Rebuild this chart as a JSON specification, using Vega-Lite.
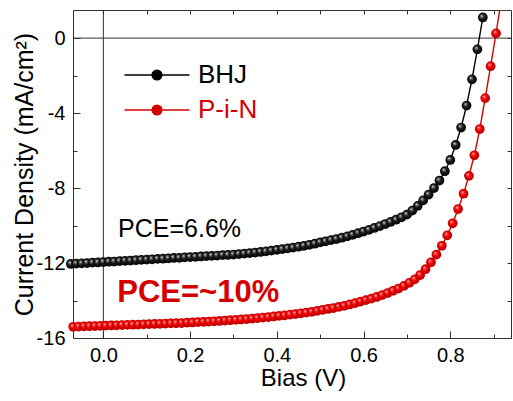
{
  "$schema": "https://vega.github.io/schema/vega-lite/v6.json",
  "width": 438,
  "height": 328,
  "autosize": "none",
  "padding": {"left": 73, "top": 10, "right": 2, "bottom": 63},
  "background": "white",
  "config": {
    "font": "Liberation Sans",
    "view": {"stroke": null},
    "axis": {
      "labelFont": "Liberation Sans",
      "labelFontSize": 20,
      "labelColor": "#000000",
      "titleFont": "Liberation Sans",
      "titleFontSize": 24,
      "titleFontWeight": "normal",
      "titleColor": "#000000",
      "domainColor": "#333333",
      "domainWidth": 1,
      "tickColor": "#333333",
      "tickWidth": 1,
      "grid": false
    }
  },
  "datasets": {
    "iv": [
      {"series":"BHJ","V":-0.075,"J":-12.05},{"series":"BHJ","V":-0.0625,"J":-12.03},{"series":"BHJ","V":-0.05,"J":-12.02},{"series":"BHJ","V":-0.0375,"J":-12.0},{"series":"BHJ","V":-0.025,"J":-11.98},{"series":"BHJ","V":-0.0125,"J":-11.97},{"series":"BHJ","V":0,"J":-11.95},{"series":"BHJ","V":0.0125,"J":-11.93},{"series":"BHJ","V":0.025,"J":-11.92},{"series":"BHJ","V":0.0375,"J":-11.9},
      {"series":"BHJ","V":0.05,"J":-11.88},{"series":"BHJ","V":0.0625,"J":-11.87},{"series":"BHJ","V":0.075,"J":-11.85},{"series":"BHJ","V":0.0875,"J":-11.83},{"series":"BHJ","V":0.1,"J":-11.82},{"series":"BHJ","V":0.1125,"J":-11.8},{"series":"BHJ","V":0.125,"J":-11.78},{"series":"BHJ","V":0.1375,"J":-11.77},{"series":"BHJ","V":0.15,"J":-11.75},{"series":"BHJ","V":0.1625,"J":-11.73},
      {"series":"BHJ","V":0.175,"J":-11.72},{"series":"BHJ","V":0.1875,"J":-11.7},{"series":"BHJ","V":0.2,"J":-11.68},{"series":"BHJ","V":0.2125,"J":-11.67},{"series":"BHJ","V":0.225,"J":-11.65},{"series":"BHJ","V":0.2375,"J":-11.63},{"series":"BHJ","V":0.25,"J":-11.62},{"series":"BHJ","V":0.2625,"J":-11.6},{"series":"BHJ","V":0.275,"J":-11.58},{"series":"BHJ","V":0.2875,"J":-11.57},
      {"series":"BHJ","V":0.3,"J":-11.55},{"series":"BHJ","V":0.3125,"J":-11.52},{"series":"BHJ","V":0.325,"J":-11.5},{"series":"BHJ","V":0.3375,"J":-11.47},{"series":"BHJ","V":0.35,"J":-11.44},{"series":"BHJ","V":0.3625,"J":-11.41},{"series":"BHJ","V":0.375,"J":-11.38},{"series":"BHJ","V":0.3875,"J":-11.34},{"series":"BHJ","V":0.4,"J":-11.3},{"series":"BHJ","V":0.4125,"J":-11.26},
      {"series":"BHJ","V":0.425,"J":-11.22},{"series":"BHJ","V":0.4375,"J":-11.18},{"series":"BHJ","V":0.45,"J":-11.13},{"series":"BHJ","V":0.4625,"J":-11.08},{"series":"BHJ","V":0.475,"J":-11.03},{"series":"BHJ","V":0.4875,"J":-10.97},{"series":"BHJ","V":0.5,"J":-10.9},{"series":"BHJ","V":0.5125,"J":-10.84},{"series":"BHJ","V":0.525,"J":-10.78},{"series":"BHJ","V":0.5375,"J":-10.72},
      {"series":"BHJ","V":0.55,"J":-10.65},{"series":"BHJ","V":0.5625,"J":-10.58},{"series":"BHJ","V":0.575,"J":-10.5},{"series":"BHJ","V":0.5875,"J":-10.41},{"series":"BHJ","V":0.6,"J":-10.32},{"series":"BHJ","V":0.6125,"J":-10.23},{"series":"BHJ","V":0.625,"J":-10.13},{"series":"BHJ","V":0.6375,"J":-10.03},{"series":"BHJ","V":0.65,"J":-9.92},{"series":"BHJ","V":0.6625,"J":-9.81},
      {"series":"BHJ","V":0.675,"J":-9.69},{"series":"BHJ","V":0.6875,"J":-9.56},{"series":"BHJ","V":0.7,"J":-9.42},{"series":"BHJ","V":0.7125,"J":-9.2},{"series":"BHJ","V":0.725,"J":-8.95},{"series":"BHJ","V":0.7375,"J":-8.66},{"series":"BHJ","V":0.75,"J":-8.35},{"series":"BHJ","V":0.7625,"J":-8.0},{"series":"BHJ","V":0.775,"J":-7.6},{"series":"BHJ","V":0.7875,"J":-7.1},
      {"series":"BHJ","V":0.8,"J":-6.5},{"series":"BHJ","V":0.8125,"J":-5.7},{"series":"BHJ","V":0.825,"J":-4.77},{"series":"BHJ","V":0.8375,"J":-3.6},{"series":"BHJ","V":0.85,"J":-2.2},{"series":"BHJ","V":0.8625,"J":-0.6},{"series":"BHJ","V":0.875,"J":1.1},
      {"series":"P-i-N","V":-0.0695,"J":-15.4},{"series":"P-i-N","V":-0.057,"J":-15.39},{"series":"P-i-N","V":-0.0445,"J":-15.38},{"series":"P-i-N","V":-0.032,"J":-15.37},{"series":"P-i-N","V":-0.0195,"J":-15.36},{"series":"P-i-N","V":-0.007,"J":-15.35},{"series":"P-i-N","V":0.0055,"J":-15.34},{"series":"P-i-N","V":0.018,"J":-15.33},{"series":"P-i-N","V":0.0305,"J":-15.32},{"series":"P-i-N","V":0.043,"J":-15.31},
      {"series":"P-i-N","V":0.0555,"J":-15.3},{"series":"P-i-N","V":0.068,"J":-15.29},{"series":"P-i-N","V":0.0805,"J":-15.28},{"series":"P-i-N","V":0.093,"J":-15.27},{"series":"P-i-N","V":0.1055,"J":-15.26},{"series":"P-i-N","V":0.118,"J":-15.25},{"series":"P-i-N","V":0.1305,"J":-15.24},{"series":"P-i-N","V":0.143,"J":-15.23},{"series":"P-i-N","V":0.1555,"J":-15.22},{"series":"P-i-N","V":0.168,"J":-15.21},
      {"series":"P-i-N","V":0.1805,"J":-15.2},{"series":"P-i-N","V":0.193,"J":-15.18},{"series":"P-i-N","V":0.2055,"J":-15.17},{"series":"P-i-N","V":0.218,"J":-15.15},{"series":"P-i-N","V":0.2305,"J":-15.14},{"series":"P-i-N","V":0.243,"J":-15.12},{"series":"P-i-N","V":0.2555,"J":-15.11},{"series":"P-i-N","V":0.268,"J":-15.09},{"series":"P-i-N","V":0.2805,"J":-15.07},{"series":"P-i-N","V":0.293,"J":-15.05},
      {"series":"P-i-N","V":0.3055,"J":-15.03},{"series":"P-i-N","V":0.318,"J":-15.01},{"series":"P-i-N","V":0.3305,"J":-14.99},{"series":"P-i-N","V":0.343,"J":-14.96},{"series":"P-i-N","V":0.3555,"J":-14.94},{"series":"P-i-N","V":0.368,"J":-14.91},{"series":"P-i-N","V":0.3805,"J":-14.88},{"series":"P-i-N","V":0.393,"J":-14.85},{"series":"P-i-N","V":0.4055,"J":-14.82},{"series":"P-i-N","V":0.418,"J":-14.79},
      {"series":"P-i-N","V":0.4305,"J":-14.75},{"series":"P-i-N","V":0.443,"J":-14.72},{"series":"P-i-N","V":0.4555,"J":-14.68},{"series":"P-i-N","V":0.468,"J":-14.64},{"series":"P-i-N","V":0.4805,"J":-14.6},{"series":"P-i-N","V":0.493,"J":-14.55},{"series":"P-i-N","V":0.5055,"J":-14.5},{"series":"P-i-N","V":0.518,"J":-14.45},{"series":"P-i-N","V":0.5305,"J":-14.4},{"series":"P-i-N","V":0.543,"J":-14.34},
      {"series":"P-i-N","V":0.5555,"J":-14.28},{"series":"P-i-N","V":0.568,"J":-14.21},{"series":"P-i-N","V":0.5805,"J":-14.14},{"series":"P-i-N","V":0.593,"J":-14.06},{"series":"P-i-N","V":0.6055,"J":-13.98},{"series":"P-i-N","V":0.618,"J":-13.9},{"series":"P-i-N","V":0.6305,"J":-13.81},{"series":"P-i-N","V":0.643,"J":-13.71},{"series":"P-i-N","V":0.6555,"J":-13.6},{"series":"P-i-N","V":0.668,"J":-13.48},
      {"series":"P-i-N","V":0.6805,"J":-13.36},{"series":"P-i-N","V":0.693,"J":-13.22},{"series":"P-i-N","V":0.7055,"J":-13.06},{"series":"P-i-N","V":0.718,"J":-12.87},{"series":"P-i-N","V":0.7305,"J":-12.64},{"series":"P-i-N","V":0.743,"J":-12.33},{"series":"P-i-N","V":0.7555,"J":-11.96},{"series":"P-i-N","V":0.768,"J":-11.55},{"series":"P-i-N","V":0.7805,"J":-11.08},{"series":"P-i-N","V":0.793,"J":-10.52},
      {"series":"P-i-N","V":0.8055,"J":-9.88},{"series":"P-i-N","V":0.818,"J":-9.12},{"series":"P-i-N","V":0.8305,"J":-8.3},{"series":"P-i-N","V":0.843,"J":-7.35},{"series":"P-i-N","V":0.8555,"J":-6.25},{"series":"P-i-N","V":0.868,"J":-4.85},{"series":"P-i-N","V":0.8805,"J":-3.2},{"series":"P-i-N","V":0.893,"J":-1.5},{"series":"P-i-N","V":0.9055,"J":0.25},{"series":"P-i-N","V":0.918,"J":2.1}
    ]
  },
  "layer": [
    {
      "data": {"values": [{"a": 1}]},
      "mark": {"type": "point", "opacity": 0},
      "encoding": {
        "x": {"datum": 0.5, "type": "quantitative", "scale": {"domain": [-0.07, 0.94], "nice": false, "zero": false},
          "axis": {"orient": "bottom", "values": [0, 0.2, 0.4, 0.6, 0.8], "format": ".1f", "tickSize": -7, "labelPadding": 14, "title": "Bias (V)", "titleX": 230, "titleY": 47, "titleBaseline": "alphabetic", "titleAlign": "center"}},
        "y": {"datum": -8, "type": "quantitative", "scale": {"domain": [-16, 1.5], "nice": false, "zero": false},
          "axis": {"orient": "left", "values": [-16, -12, -8, -4, 0], "labelExpr": "'' + datum.value", "tickSize": -7, "labelPadding": 15, "title": "Current Density (mA/cm²)", "titleFontSize": 25, "titleAngle": -90, "titleX": -41, "titleY": 164, "titleBaseline": "alphabetic", "titleAlign": "center"}}
      }
    },
    {
      "data": {"values": [{"a": 1}]},
      "mark": {"type": "point", "opacity": 0},
      "encoding": {
        "x": {"datum": 0.5, "type": "quantitative", "scale": {"domain": [-0.07, 0.94], "nice": false, "zero": false},
          "axis": {"orient": "bottom", "values": [0.1, 0.3, 0.5, 0.7, 0.9], "labels": false, "domain": false, "tickSize": -4, "title": null}},
        "y": {"datum": -8, "type": "quantitative", "scale": {"domain": [-16, 1.5], "nice": false, "zero": false},
          "axis": {"orient": "left", "values": [-14, -10, -6, -2], "labels": false, "domain": false, "tickSize": -4, "title": null}}
      }
    },
    {
      "data": {"values": [{"a": 1}]},
      "mark": {"type": "rule", "color": "#333333", "strokeWidth": 1},
      "encoding": {
        "x": {"datum": 0, "type": "quantitative", "scale": {"domain": [-0.07, 0.94], "nice": false, "zero": false},
          "axis": {"orient": "top", "values": [0, 0.1, 0.2, 0.3, 0.4, 0.5, 0.6, 0.7, 0.8, 0.9], "labels": false, "tickSize": -4, "title": null}}
      }
    },
    {
      "data": {"values": [{"a": 1}]},
      "mark": {"type": "rule", "color": "#333333", "strokeWidth": 1},
      "encoding": {
        "y": {"datum": 0, "type": "quantitative", "scale": {"domain": [-16, 1.5], "nice": false, "zero": false},
          "axis": {"orient": "right", "values": [-16, -14, -12, -10, -8, -6, -4, -2, 0], "labels": false, "tickSize": -4, "title": null}}
      }
    },
    {
      "data": {"name": "iv"},
      "mark": {"type": "line", "clip": true, "strokeWidth": 1.4},
      "encoding": {
        "x": {"field": "V", "type": "quantitative", "scale": {"domain": [-0.07, 0.94], "nice": false, "zero": false}, "axis": null},
        "y": {"field": "J", "type": "quantitative", "scale": {"domain": [-16, 1.5], "nice": false, "zero": false}, "axis": null},
        "stroke": {"field": "series", "type": "nominal", "scale": {"domain": ["BHJ", "P-i-N"], "range": ["#000000", "#d40000"]},
          "legend": {
            "orient": "none", "legendX": 71, "legendY": 52, "title": null, "padding": 0,
            "symbolType": "M-3,0H3M0.45,0A0.45,0.45,0,1,1,-0.45,0A0.45,0.45,0,1,1,0.45,0",
            "symbolSize": 470, "symbolStrokeWidth": 1.4,
            "labelFont": "Liberation Sans", "labelFontSize": 26, "labelOffset": 28, "rowPadding": 9,
            "encode": {
              "symbols": {"update": {"fill": {"scale": "stroke", "field": "value"}}},
              "labels": {"update": {"fill": {"scale": "stroke", "field": "value"}}}
            }
          }}
      }
    },
    {
      "data": {"name": "iv"},
      "transform": [{"filter": "datum.J < 1.5 && datum.series == 'P-i-N'"}],
      "mark": {"type": "point", "filled": true, "opacity": 1, "size": 95, "strokeWidth": 0,
        "fill": {"gradient": "radial", "x1": 0.36, "y1": 0.32, "r1": 0, "x2": 0.5, "y2": 0.5, "r2": 0.55, "stops": [{"offset": 0, "color": "#ffeaea"}, {"offset": 0.18, "color": "#ff5050"}, {"offset": 0.5, "color": "#e80000"}, {"offset": 1, "color": "#b00000"}]}},
      "encoding": {
        "x": {"field": "V", "type": "quantitative", "scale": {"domain": [-0.07, 0.94], "nice": false, "zero": false}, "axis": null},
        "y": {"field": "J", "type": "quantitative", "scale": {"domain": [-16, 1.5], "nice": false, "zero": false}, "axis": null}
      }
    },
    {
      "data": {"name": "iv"},
      "transform": [{"filter": "datum.J < 1.5 && datum.series == 'BHJ'"}],
      "mark": {"type": "point", "filled": true, "opacity": 1, "size": 95, "strokeWidth": 0,
        "fill": {"gradient": "radial", "x1": 0.36, "y1": 0.32, "r1": 0, "x2": 0.5, "y2": 0.5, "r2": 0.55, "stops": [{"offset": 0, "color": "#ffffff"}, {"offset": 0.15, "color": "#8a8a8a"}, {"offset": 0.45, "color": "#1c1c1c"}, {"offset": 1, "color": "#000000"}]}},
      "encoding": {
        "x": {"field": "V", "type": "quantitative", "scale": {"domain": [-0.07, 0.94], "nice": false, "zero": false}, "axis": null},
        "y": {"field": "J", "type": "quantitative", "scale": {"domain": [-16, 1.5], "nice": false, "zero": false}, "axis": null}
      }
    },
    {
      "data": {"values": [{"label": "PCE=6.6%", "V": 0.034, "J": -10.2}]},
      "mark": {"type": "text", "align": "left", "baseline": "middle", "fontSize": 25, "font": "Liberation Sans", "color": "#000000"},
      "encoding": {
        "x": {"field": "V", "type": "quantitative", "scale": {"domain": [-0.07, 0.94], "nice": false, "zero": false}, "axis": null},
        "y": {"field": "J", "type": "quantitative", "scale": {"domain": [-16, 1.5], "nice": false, "zero": false}, "axis": null},
        "text": {"field": "label"}
      }
    },
    {
      "data": {"values": [{"label": "PCE=~10%", "V": 0.032, "J": -13.6}]},
      "mark": {"type": "text", "align": "left", "baseline": "middle", "fontSize": 31, "fontWeight": "bold", "font": "Liberation Sans", "color": "#d40000"},
      "encoding": {
        "x": {"field": "V", "type": "quantitative", "scale": {"domain": [-0.07, 0.94], "nice": false, "zero": false}, "axis": null},
        "y": {"field": "J", "type": "quantitative", "scale": {"domain": [-16, 1.5], "nice": false, "zero": false}, "axis": null},
        "text": {"field": "label"}
      }
    }
  ],
  "resolve": {"axis": {"x": "independent", "y": "independent"}}
}
